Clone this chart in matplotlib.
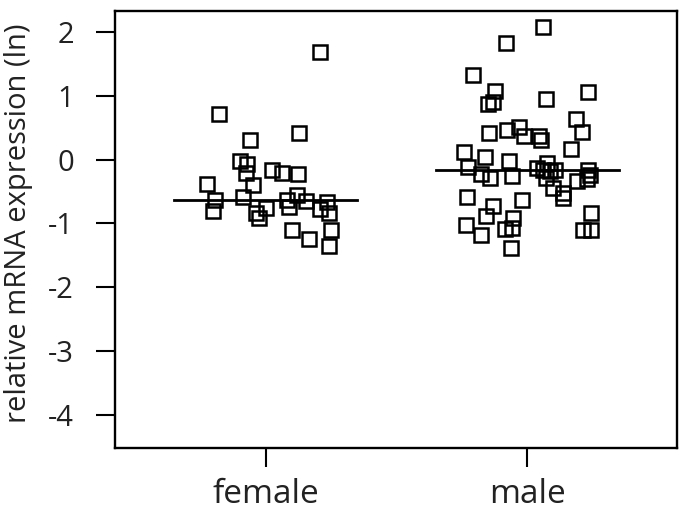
import numpy as np
import matplotlib
matplotlib.use("Agg")
import matplotlib.pyplot as plt

plt.rcParams['font.family'] = ['Open Sans', 'DejaVu Sans']

groups = ["female", "male"]

# jittered x (group position + offset) and y values
female_x = [1.208, 0.823, 0.940, 1.127, 0.902, 0.930, 0.925, 1.025, 1.061, 1.122,
            0.777, 0.953, 0.806, 0.914, 0.797, 0.962, 1.001, 0.974, 1.080, 1.089,
            1.121, 1.154, 1.208, 1.235, 1.243, 1.101, 1.167, 1.248, 1.241]
female_y = [1.69, 0.71, 0.30, 0.42, -0.03, -0.07, -0.21, -0.17, -0.21, -0.22,
            -0.38, -0.40, -0.64, -0.59, -0.80, -0.83, -0.76, -0.92, -0.64, -0.74,
            -0.55, -0.65, -0.77, -0.66, -0.84, -1.10, -1.25, -1.11, -1.36]

male_x = [2.059, 1.919, 1.791, 1.877, 1.851, 1.870, 2.071, 2.233, 2.186, 2.208,
          1.854, 1.921, 1.968, 1.987, 2.046, 2.051, 2.167, 1.759, 1.838, 1.930,
          1.774, 1.821, 1.858, 1.942, 2.035, 2.074, 2.058, 2.086, 2.105, 2.072,
          2.099, 2.137, 2.135, 2.190, 2.233, 2.239, 2.229, 1.768, 1.869, 1.840,
          1.980, 1.765, 1.824, 1.913, 1.943, 1.945, 1.936, 2.242, 2.213, 2.244]
male_y = [2.07, 1.83, 1.32, 1.07, 0.87, 0.90, 0.94, 1.05, 0.63, 0.43,
          0.42, 0.47, 0.51, 0.37, 0.37, 0.31, 0.16, 0.12, 0.04, -0.03,
          -0.12, -0.23, -0.29, -0.25, -0.13, -0.05, -0.16, -0.18, -0.17, -0.29,
          -0.44, -0.52, -0.60, -0.34, -0.17, -0.24, -0.31, -0.58, -0.73, -0.89,
          -0.63, -1.03, -1.18, -1.09, -1.07, -0.92, -1.39, -0.84, -1.10, -1.10]

centre_lines = [-0.63, -0.16]

fig = plt.figure(figsize=(6.85, 5.12), dpi=100)
ax = fig.add_axes([0.168, 0.1244, 0.82, 0.8547])

ax.plot(female_x, female_y, linestyle='none', marker='s', markersize=10,
        markerfacecolor='none', markeredgecolor='black', markeredgewidth=1.8)
ax.plot(male_x, male_y, linestyle='none', marker='s', markersize=10,
        markerfacecolor='none', markeredgecolor='black', markeredgewidth=1.8)

for i, val in enumerate(centre_lines):
    ax.plot([i + 1 - 0.35, i + 1 + 0.35], [val, val], color='black', linewidth=2.0)

ax.set_xlim(0.424, 2.571)
ax.set_ylim(-4.52, 2.33)
ax.set_xticks([1, 2])
ax.set_xticklabels(groups)
ax.set_yticks([-4, -3, -2, -1, 0, 1, 2])
ax.set_yticklabels(['-4', '-3', '-2', '-1', '0', '1', '2'])

ax.tick_params(axis='both', direction='out', length=13.5, width=1.5, colors='black')
ax.tick_params(axis='y', pad=16, labelsize=21, labelcolor='#222222')
ax.tick_params(axis='x', pad=8, labelsize=24, labelcolor='#222222')
for sp in ax.spines.values():
    sp.set_linewidth(1.7)

ax.set_ylabel("relative mRNA expression (ln)", fontsize=21, color='#222222')
ax.yaxis.set_label_coords(-0.146, 0.515)

fig.savefig("out.png", dpi=100)
